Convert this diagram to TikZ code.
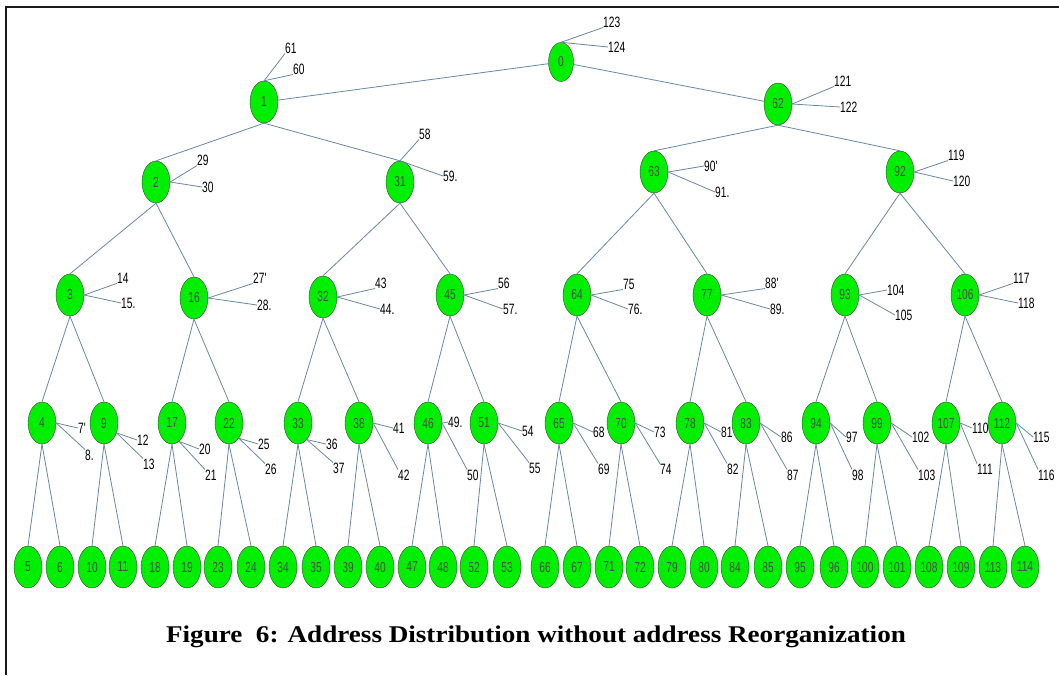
\documentclass[tikz,border=0pt]{standalone}
\usepackage{fontspec}
\setmainfont{Liberation Sans}
\newfontfamily\lblfont[FakeStretch=0.68]{Liberation Sans}
\newfontfamily\vertfont[FakeStretch=0.7]{Liberation Sans}
\newfontfamily\capfont[FakeStretch=1.13]{Liberation Serif}
\usetikzlibrary{shapes.geometric}

\definecolor{vgreen}{RGB}{0,238,0}
\definecolor{linkblue}{RGB}{105,135,165}

\begin{document}
\begin{tikzpicture}[x=1pt, y=-1pt,
    vert/.style={ellipse, draw=black!75, fill=vgreen, minimum width=28pt, minimum height=42pt,
        inner sep=0pt, text=black!70, font=\vertfont\fontsize{14.5}{14.5}\selectfont},
    lbl/.style={anchor=west, inner sep=0pt, font=\lblfont\fontsize{15}{15}\selectfont},
    link/.style={draw=linkblue, line width=0.8pt}]
        \useasboundingbox (0,0) rectangle (1059,675);
        \draw[line width=2.5pt, black!90] (6,675) -- (6,7) -- (1059,7);

        % levels 0-3
        \node[vert, minimum width=25pt, minimum height=39pt] (n0) at (561,62) {0};
        \node[vert] (n1) at (264,102) {1};
        \node[vert] (n62) at (778,104) {62};
        \node[vert] (n2) at (156,182) {2};
        \node[vert] (n31) at (400,182) {31};
        \node[vert] (n63) at (654,172) {63};
        \node[vert] (n92) at (900,172) {92};
        \node[vert] (n3) at (70,295) {3};
        \node[vert] (n16) at (194,298) {16};
        \node[vert] (n32) at (323,297) {32};
        \node[vert] (n45) at (450,295) {45};
        \node[vert] (n64) at (577,295) {64};
        \node[vert] (n77) at (707,295) {77};
        \node[vert] (n93) at (845,295) {93};
        \node[vert] (n106) at (965,295) {106};

        % level 4
        \node[vert] (n4) at (42,423) {4};
        \node[vert] (n9) at (104,423) {9};
        \node[vert] (n17) at (172,423) {17};
        \node[vert] (n22) at (229,423) {22};
        \node[vert] (n33) at (298,423) {33};
        \node[vert] (n38) at (359,423) {38};
        \node[vert] (n46) at (428,423) {46};
        \node[vert] (n51) at (484,423) {51};
        \node[vert] (n65) at (559,423) {65};
        \node[vert] (n70) at (621,423) {70};
        \node[vert] (n78) at (690,423) {78};
        \node[vert] (n83) at (746,423) {83};
        \node[vert] (n94) at (816,423) {94};
        \node[vert] (n99) at (877,423) {99};
        \node[vert] (n107) at (946,423) {107};
        \node[vert] (n112) at (1002,423) {112};

        % leaves
        \node[vert] (n5) at (28,567) {5};
        \node[vert] (n6) at (60,567) {6};
        \node[vert] (n10) at (92,567) {10};
        \node[vert] (n11) at (123,567) {11};
        \node[vert] (n18) at (155,567) {18};
        \node[vert] (n19) at (187,567) {19};
        \node[vert] (n23) at (218,567) {23};
        \node[vert] (n24) at (251,567) {24};
        \node[vert] (n34) at (283,567) {34};
        \node[vert] (n35) at (316,567) {35};
        \node[vert] (n39) at (348,567) {39};
        \node[vert] (n40) at (380,567) {40};
        \node[vert] (n47) at (412,567) {47};
        \node[vert] (n48) at (443,567) {48};
        \node[vert] (n52) at (474,567) {52};
        \node[vert] (n53) at (507,567) {53};
        \node[vert] (n66) at (545,567) {66};
        \node[vert] (n67) at (577,567) {67};
        \node[vert] (n71) at (609,567) {71};
        \node[vert] (n72) at (640,567) {72};
        \node[vert] (n79) at (672,567) {79};
        \node[vert] (n80) at (704,567) {80};
        \node[vert] (n84) at (735,567) {84};
        \node[vert] (n85) at (768,567) {85};
        \node[vert] (n95) at (800,567) {95};
        \node[vert] (n96) at (834,567) {96};
        \node[vert] (n100) at (865,567) {100};
        \node[vert] (n101) at (897,567) {101};
        \node[vert] (n108) at (929,567) {108};
        \node[vert] (n109) at (961,567) {109};
        \node[vert] (n113) at (993,567) {113};
        \node[vert] (n114) at (1025,567) {114};

        % tree links
        \draw[link] (n0) -- (n1);
        \draw[link] (n0) -- (n62);
        \draw[link] (n1.south) -- (n2.north);
        \draw[link] (n1.south) -- (n31.north);
        \draw[link] (n62.south) -- (n63.north);
        \draw[link] (n62.south) -- (n92.north);
        \draw[link] (n2.south) -- (n3.north);
        \draw[link] (n2.south) -- (n16.north);
        \draw[link] (n31.south) -- (n32.north);
        \draw[link] (n31.south) -- (n45.north);
        \draw[link] (n63.south) -- (n64.north);
        \draw[link] (n63.south) -- (n77.north);
        \draw[link] (n92.south) -- (n93.north);
        \draw[link] (n92.south) -- (n106.north);
        \draw[link] (n3.south) -- (n4.north);
        \draw[link] (n3.south) -- (n9.north);
        \draw[link] (n16.south) -- (n17.north);
        \draw[link] (n16.south) -- (n22.north);
        \draw[link] (n32.south) -- (n33.north);
        \draw[link] (n32.south) -- (n38.north);
        \draw[link] (n45.south) -- (n46.north);
        \draw[link] (n45.south) -- (n51.north);
        \draw[link] (n64.south) -- (n65.north);
        \draw[link] (n64.south) -- (n70.north);
        \draw[link] (n77.south) -- (n78.north);
        \draw[link] (n77.south) -- (n83.north);
        \draw[link] (n93.south) -- (n94.north);
        \draw[link] (n93.south) -- (n99.north);
        \draw[link] (n106.south) -- (n107.north);
        \draw[link] (n106.south) -- (n112.north);
        \draw[link] (n4.south) -- (n5.north);
        \draw[link] (n4.south) -- (n6.north);
        \draw[link] (n9.south) -- (n10.north);
        \draw[link] (n9.south) -- (n11.north);
        \draw[link] (n17.south) -- (n18.north);
        \draw[link] (n17.south) -- (n19.north);
        \draw[link] (n22.south) -- (n23.north);
        \draw[link] (n22.south) -- (n24.north);
        \draw[link] (n33.south) -- (n34.north);
        \draw[link] (n33.south) -- (n35.north);
        \draw[link] (n38.south) -- (n39.north);
        \draw[link] (n38.south) -- (n40.north);
        \draw[link] (n46.south) -- (n47.north);
        \draw[link] (n46.south) -- (n48.north);
        \draw[link] (n51.south) -- (n52.north);
        \draw[link] (n51.south) -- (n53.north);
        \draw[link] (n65.south) -- (n66.north);
        \draw[link] (n65.south) -- (n67.north);
        \draw[link] (n70.south) -- (n71.north);
        \draw[link] (n70.south) -- (n72.north);
        \draw[link] (n78.south) -- (n79.north);
        \draw[link] (n78.south) -- (n80.north);
        \draw[link] (n83.south) -- (n84.north);
        \draw[link] (n83.south) -- (n85.north);
        \draw[link] (n94.south) -- (n95.north);
        \draw[link] (n94.south) -- (n96.north);
        \draw[link] (n99.south) -- (n100.north);
        \draw[link] (n99.south) -- (n101.north);
        \draw[link] (n107.south) -- (n108.north);
        \draw[link] (n107.south) -- (n109.north);
        \draw[link] (n112.south) -- (n113.north);
        \draw[link] (n112.south) -- (n114.north);

        % side addresses
        \node[lbl] (l123) at (603,22) {123};
        \node[lbl] (l124) at (608,47) {124};
        \draw[link] (n0.north) -- (l123.south west);
        \draw[link] (n0.north) -- (l124.west);
        \node[lbl] (l61) at (285,48) {61};
        \node[lbl] (l60) at (293,69) {60};
        \draw[link] (n1.north) -- (l61.south west);
        \draw[link] (n1.north) -- (l60.south west);
        \node[lbl] (l121) at (834,81) {121};
        \node[lbl] (l122) at (840,107) {122};
        \draw[link] (n62.east) -- (l121.south west);
        \draw[link] (n62.east) -- (l122.west);
        \node[lbl] (l29) at (197,160) {29};
        \node[lbl] (l30) at (202,187) {30};
        \draw[link] (n2.east) -- (l29.south west);
        \draw[link] (n2.east) -- (l30.west);
        \node[lbl] (l58) at (419,134) {58};
        \node[lbl] (l59) at (443,176) {59.};
        \draw[link] (n31.north) -- (l58.south west);
        \draw[link] (n31.north) -- (l59.west);
        \node[lbl] (l90) at (704,166) {90'};
        \node[lbl] (l91) at (715,192) {91.};
        \draw[link] (n63.east) -- (l90.west);
        \draw[link] (n63.east) -- (l91.west);
        \node[lbl] (l119) at (948,155) {119};
        \node[lbl] (l120) at (953,181) {120};
        \draw[link] (n92.east) -- (l119.south west);
        \draw[link] (n92.east) -- (l120.west);

        \node[lbl] (l14) at (117,278) {14};
        \node[lbl] (l15) at (121,303) {15.};
        \draw[link] (n3.east) -- (l14.south west);
        \draw[link] (n3.east) -- (l15.west);
        \node[lbl] (l27) at (253,278) {27'};
        \node[lbl] (l28) at (257,305) {28.};
        \draw[link] (n16.east) -- (l27.south west);
        \draw[link] (n16.east) -- (l28.west);
        \node[lbl] (l43) at (375,283) {43};
        \node[lbl] (l44) at (380,309) {44.};
        \draw[link] (n32.east) -- (l43.south west);
        \draw[link] (n32.east) -- (l44.west);
        \node[lbl] (l56) at (498,283) {56};
        \node[lbl] (l57) at (503,309) {57.};
        \draw[link] (n45.east) -- (l56.south west);
        \draw[link] (n45.east) -- (l57.west);
        \node[lbl] (l75) at (623,284) {75};
        \node[lbl] (l76) at (628,309) {76.};
        \draw[link] (n64.east) -- (l75.south west);
        \draw[link] (n64.east) -- (l76.west);
        \node[lbl] (l88) at (765,283) {88'};
        \node[lbl] (l89) at (770,309) {89.};
        \draw[link] (n77.east) -- (l88.south west);
        \draw[link] (n77.east) -- (l89.west);
        \node[lbl] (l104) at (887,290) {104};
        \node[lbl] (l105) at (895,315) {105};
        \draw[link] (n93.east) -- (l104.west);
        \draw[link] (n93.east) -- (l105.west);
        \node[lbl] (l117) at (1013,278) {117};
        \node[lbl] (l118) at (1018,303) {118};
        \draw[link] (n106.east) -- (l117.south west);
        \draw[link] (n106.east) -- (l118.west);

        \node[lbl] (l7) at (78,428) {7'};
        \node[lbl] (l8) at (85,455) {8.};
        \draw[link] (n4.east) -- (l7.west);
        \draw[link] (n4.east) -- (l8.north west);
        \node[lbl] (l12) at (137,440) {12};
        \node[lbl] (l13) at (143,464) {13};
        \draw[link] (n9.-38) -- (l12.west);
        \draw[link] (n9.-38) -- (l13.north west);
        \node[lbl] (l20) at (199,449) {20};
        \node[lbl] (l21) at (205,475) {21};
        \draw[link] (n17.-69) -- (l20.west);
        \draw[link] (n17.-69) -- (l21.north west);
        \node[lbl] (l25) at (258,444) {25};
        \node[lbl] (l26) at (265,469) {26};
        \draw[link] (n22.-57) -- (l25.west);
        \draw[link] (n22.-57) -- (l26.north west);
        \node[lbl] (l36) at (326,444) {36};
        \node[lbl] (l37) at (333,468) {37};
        \draw[link] (n33.-62) -- (l36.west);
        \draw[link] (n33.-62) -- (l37.north west);
        \node[lbl] (l41) at (393,428) {41};
        \node[lbl] (l42) at (398,475) {42};
        \draw[link] (n38.east) -- (l41.west);
        \draw[link] (n38.east) -- (l42.north west);
        \node[lbl] (l49) at (448,422) {49.};
        \node[lbl] (l50) at (467,475) {50};
        \draw[link] (n46.east) -- (l49.west);
        \draw[link] (n46.east) -- (l50.north west);
        \node[lbl] (l54) at (522,431) {54};
        \node[lbl] (l55) at (529,468) {55};
        \draw[link] (n51.east) -- (l54.west);
        \draw[link] (n51.east) -- (l55.north west);
        \node[lbl] (l68) at (593,432) {68};
        \node[lbl] (l69) at (598,469) {69};
        \draw[link] (n65.east) -- (l68.west);
        \draw[link] (n65.east) -- (l69.north west);
        \node[lbl] (l73) at (654,432) {73};
        \node[lbl] (l74) at (660,469) {74};
        \draw[link] (n70.east) -- (l73.west);
        \draw[link] (n70.east) -- (l74.north west);
        \node[lbl] (l81) at (721,432) {81};
        \node[lbl] (l82) at (727,469) {82};
        \draw[link] (n78.east) -- (l81.west);
        \draw[link] (n78.east) -- (l82.north west);
        \node[lbl] (l86) at (781,437) {86};
        \node[lbl] (l87) at (787,475) {87};
        \draw[link] (n83.east) -- (l86.west);
        \draw[link] (n83.east) -- (l87.north west);
        \node[lbl] (l97) at (846,437) {97};
        \node[lbl] (l98) at (852,475) {98};
        \draw[link] (n94.east) -- (l97.west);
        \draw[link] (n94.east) -- (l98.north west);
        \node[lbl] (l102) at (912,437) {102};
        \node[lbl] (l103) at (918,475) {103};
        \draw[link] (n99.east) -- (l102.west);
        \draw[link] (n99.east) -- (l103.north west);
        \node[lbl] (l110) at (972,428) {110};
        \node[lbl] (l111) at (977,469) {111};
        \draw[link] (n107.east) -- (l110.west);
        \draw[link] (n107.east) -- (l111.north west);
        \node[lbl] (l115) at (1033,437) {115};
        \node[lbl] (l116) at (1038,475) {116};
        \draw[link] (n112.east) -- (l115.west);
        \draw[link] (n112.east) -- (l116.north west);

        \node[font=\capfont\bfseries\fontsize{24}{24}\selectfont] (cap) at (536,637)
            {Figure\ \ 6: Address Distribution without address Reorganization};
    \end{tikzpicture}
\end{document}
